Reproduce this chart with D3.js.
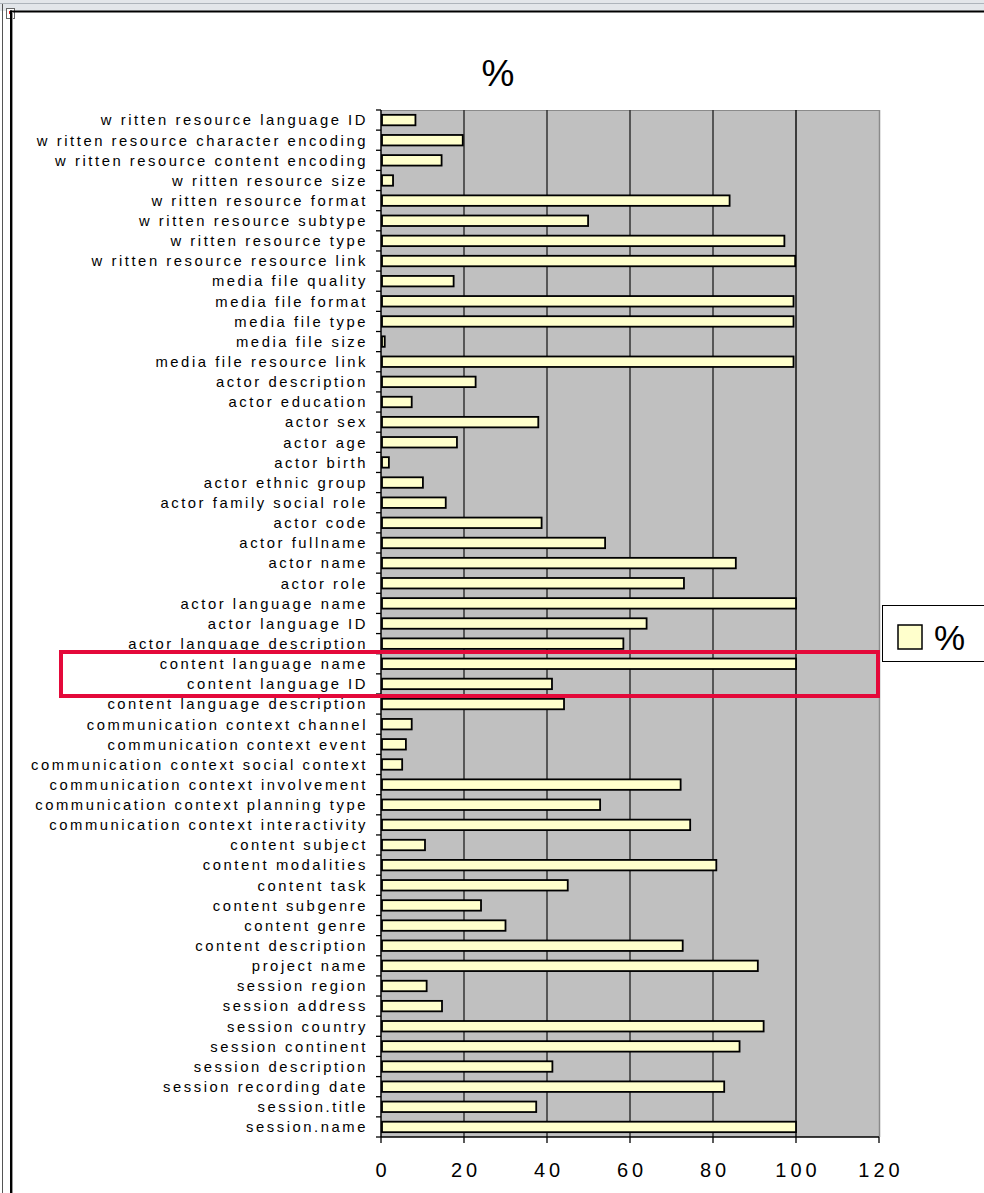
<!DOCTYPE html>
<html>
<head>
<meta charset="utf-8">
<script src="https://cdn.jsdelivr.net/npm/d3@7"></script>
<style>
  html, body { margin: 0; padding: 0; background: #fff; }
  svg { display: block; }
  text { font-family: "Liberation Sans", Arial, sans-serif; fill: #000; }
</style>
</head>
<body>
<svg id="chart" width="984" height="1193"></svg>
<script>
const categories = [
  "w ritten resource language ID",
  "w ritten resource character encoding",
  "w ritten resource content encoding",
  "w ritten resource size",
  "w ritten resource format",
  "w ritten resource subtype",
  "w ritten resource type",
  "w ritten resource resource link",
  "media file quality",
  "media file format",
  "media file type",
  "media file size",
  "media file resource link",
  "actor description",
  "actor education",
  "actor sex",
  "actor age",
  "actor birth",
  "actor ethnic group",
  "actor family social role",
  "actor code",
  "actor fullname",
  "actor name",
  "actor role",
  "actor language name",
  "actor language ID",
  "actor language description",
  "content language name",
  "content language ID",
  "content language description",
  "communication context channel",
  "communication context event",
  "communication context social context",
  "communication context involvement",
  "communication context planning type",
  "communication context interactivity",
  "content subject",
  "content modalities",
  "content task",
  "content subgenre",
  "content genre",
  "content description",
  "project name",
  "session region",
  "session address",
  "session country",
  "session continent",
  "session description",
  "session recording date",
  "session.title",
  "session.name"
];

const values = [
  8.3, 19.7, 14.6, 2.9, 84, 49.9, 97.2, 99.8,
  17.5, 99.4, 99.4, 0.9, 99.4,
  22.8, 7.4, 37.9, 18.3, 1.9, 10.1, 15.6, 38.7, 54, 85.5, 73,
  100, 64, 58.4,
  100, 41.2, 44.1,
  7.4, 6, 5.1, 72.2, 52.8, 74.5,
  10.6, 80.8, 45, 24.1, 30, 72.7,
  90.8,
  11, 14.7, 92.2, 86.4, 41.3, 82.7, 37.4, 100
];

const xTicks = [0, 20, 40, 60, 80, 100, 120];
const seriesName = "%";
const titleText = "%";

const svg = d3.select("#chart");

// window chrome / frame
svg.append("rect").attr("x", 0).attr("y", 0).attr("width", 984).attr("height", 11).attr("fill", "#e3e6ea");
svg.append("line").attr("x1", 0).attr("x2", 984).attr("y1", 3.5).attr("y2", 3.5).attr("stroke", "#aeb4bb").attr("stroke-width", 1);
svg.append("line").attr("x1", 2.5).attr("x2", 2.5).attr("y1", 4).attr("y2", 1193).attr("stroke", "#555").attr("stroke-width", 1);
svg.append("rect").attr("x", 6.5).attr("y", 8.5).attr("width", 8).attr("height", 10).attr("fill", "#fff").attr("stroke", "#666").attr("stroke-width", 1);
svg.append("rect").attr("x", 9).attr("y", 11).attr("width", 3).attr("height", 3).attr("fill", "#d22");
svg.append("line").attr("x1", 10).attr("x2", 984).attr("y1", 11.5).attr("y2", 11.5).attr("stroke", "#000").attr("stroke-width", 2);
svg.append("line").attr("x1", 11).attr("x2", 11).attr("y1", 10.5).attr("y2", 1193).attr("stroke", "#000").attr("stroke-width", 2);
svg.append("line").attr("x1", 12.5).attr("x2", 12.5).attr("y1", 12).attr("y2", 1193).attr("stroke", "#999").attr("stroke-width", 1);

const plot = { left: 381, right: 879, top: 110, bottom: 1137 };

const x = d3.scaleLinear().domain([0, 120]).range([plot.left, plot.right]);
const y = d3.scaleBand().domain(categories).range([plot.top, plot.bottom]).paddingInner(0.48).paddingOuter(0.24);

// plot background
svg.append("rect")
  .attr("x", plot.left).attr("y", plot.top)
  .attr("width", plot.right - plot.left).attr("height", plot.bottom - plot.top)
  .attr("fill", "#c0c0c0");

// top and right border of plot area
svg.append("line").attr("x1", plot.left).attr("x2", plot.right).attr("y1", plot.top + 0.5).attr("y2", plot.top + 0.5).attr("stroke", "#8a8a8a");
svg.append("line").attr("x1", plot.right + 0.5).attr("x2", plot.right + 0.5).attr("y1", plot.top).attr("y2", plot.bottom).attr("stroke", "#8a8a8a").attr("stroke-width", 1.5);

// gridlines
svg.append("g").selectAll("line")
  .data(xTicks.filter(t => t > 0 && t < 120))
  .join("line")
  .attr("x1", d => x(d)).attr("x2", d => x(d))
  .attr("y1", plot.top).attr("y2", plot.bottom)
  .attr("stroke", d => d === 100 ? "#111" : "#333")
  .attr("stroke-width", 1.5);

// bars
svg.append("g").selectAll("rect")
  .data(categories)
  .join("rect")
  .attr("x", x(0) + 1)
  .attr("y", d => y(d))
  .attr("width", (d, i) => Math.max(0, x(values[i]) - x(0) - 1))
  .attr("height", y.bandwidth())
  .attr("fill", "#ffffcc")
  .attr("stroke", "#000")
  .attr("stroke-width", 1.8);

// y axis
const step = y.step();
const yAxisG = svg.append("g");
yAxisG.append("line").attr("x1", plot.left).attr("x2", plot.left).attr("y1", plot.top).attr("y2", plot.bottom).attr("stroke", "#000").attr("stroke-width", 1.5);
yAxisG.selectAll("line.tk")
  .data(d3.range(categories.length + 1))
  .join("line").attr("class", "tk")
  .attr("x1", plot.left - 5).attr("x2", plot.left)
  .attr("y1", i => plot.top + i * step).attr("y2", i => plot.top + i * step)
  .attr("stroke", "#000").attr("stroke-width", 1.3);
yAxisG.selectAll("text")
  .data(categories)
  .join("text")
  .attr("x", 368)
  .attr("y", d => y(d) + y.bandwidth() / 2)
  .attr("dy", "0.36em")
  .attr("text-anchor", "end")
  .style("font-size", "14.8px")
  .style("letter-spacing", "2.55px")
  .text(d => d);

// x axis
const xAxisG = svg.append("g");
xAxisG.append("line").attr("x1", plot.left).attr("x2", plot.right).attr("y1", plot.bottom).attr("y2", plot.bottom).attr("stroke", "#000").attr("stroke-width", 1.5);
xAxisG.selectAll("line.tk")
  .data(xTicks)
  .join("line").attr("class", "tk")
  .attr("x1", d => x(d)).attr("x2", d => x(d))
  .attr("y1", plot.bottom).attr("y2", plot.bottom + 6)
  .attr("stroke", "#000").attr("stroke-width", 1.3);
xAxisG.selectAll("text")
  .data(xTicks)
  .join("text")
  .attr("x", d => x(d) + 2)
  .attr("y", 1177)
  .attr("text-anchor", "middle")
  .style("font-size", "20px")
  .style("letter-spacing", "4px")
  .text(d => d);

// title
svg.append("text")
  .attr("x", 498).attr("y", 86)
  .attr("text-anchor", "middle")
  .style("font-size", "37px")
  .text(titleText);

// highlight box
svg.append("rect")
  .attr("x", 61).attr("y", 652)
  .attr("width", 817).attr("height", 44)
  .attr("fill", "none")
  .attr("stroke", "#e4093a")
  .attr("stroke-width", 4);

// legend
const lg = svg.append("g");
lg.append("rect").attr("x", 882.5).attr("y", 605.5).attr("width", 110).attr("height", 56)
  .attr("fill", "#fff").attr("stroke", "#000").attr("stroke-width", 1);
lg.append("rect").attr("x", 898).attr("y", 625).attr("width", 24).attr("height", 24)
  .attr("fill", "#ffffcc").attr("stroke", "#000").attr("stroke-width", 1.5);
lg.append("text").attr("x", 934).attr("y", 650)
  .style("font-size", "35px")
  .text(seriesName);
</script>
</body>
</html>
